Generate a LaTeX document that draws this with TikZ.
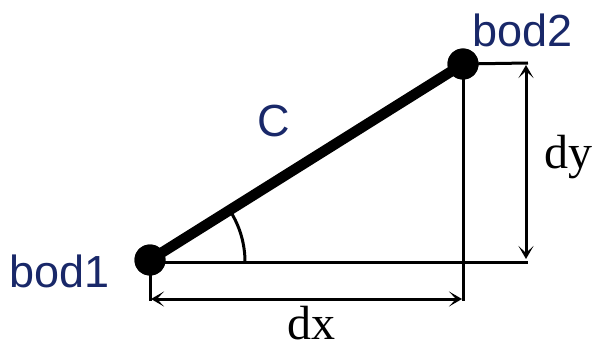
\documentclass[tikz,border=0pt]{standalone}
\usepackage{fontspec}
\setmainfont{Liberation Serif}
\newfontfamily\labelfont{Liberation Sans}
\usetikzlibrary{arrows.meta}
\definecolor{lbl}{RGB}{25,40,105}
\tikzset{
  dot/.style={circle,fill=black,inner sep=0pt,minimum size=31pt},
  thinline/.style={line width=3pt},
  rod/.style={line width=10.5pt},
  dimarrow/.style={line width=3pt,{Stealth[length=13pt,width=15pt,inset=7pt]}-{Stealth[length=13pt,width=15pt,inset=7pt]}},
  sanslbl/.style={inner sep=0pt,anchor=base west,text=lbl,font=\labelfont\fontsize{45}{45}\selectfont},
  seriflbl/.style={inner sep=0pt,anchor=base west,text=black,font=\fontsize{48}{48}\selectfont}
}
\begin{document}
\begin{tikzpicture}[x=1pt,y=1pt]
\useasboundingbox (0,0) rectangle (598,349);
\node[dot] (b1) at (150,89) {};
\node[dot] (b2) at (463,285) {};
\coordinate (hr) at (528,87);
\coordinate (h1) at (150,87);
\coordinate (tr) at (528,286);
\coordinate (vb) at (463,48);
\coordinate (tb) at (150,48);
\coordinate (dxl) at (151,50);
\coordinate (dxr) at (462,50);
\coordinate (dyt) at (526,284);
\coordinate (dyb) at (526,90);
\coordinate (arcs) at (245,87);
\draw[thinline] (h1) -- (hr);
\draw[thinline] (b2.center) -- (vb);
\draw[thinline] (b2.center) -- (tr);
\draw[thinline] (b1.center) -- (tb);
\draw[dimarrow] (dxl) -- (dxr);
\draw[dimarrow] (dyb) -- (dyt);
\draw[thinline] (arcs) arc[start angle=0,end angle=32,radius=95];
\draw[rod] (b1.center) -- (b2.center);
\node[dot] at (b1) {};
\node[dot] at (b2) {};
\node[sanslbl] (l1) at (9,62) {bod1};
\node[sanslbl] (l2) at (472,302) {bod2};
\node[sanslbl] (lc) at (257,212) {C};
\node[seriflbl] (ldx) at (287,10) {dx};
\node[seriflbl] (ldy) at (544,181) {dy};
\end{tikzpicture}
\end{document}
